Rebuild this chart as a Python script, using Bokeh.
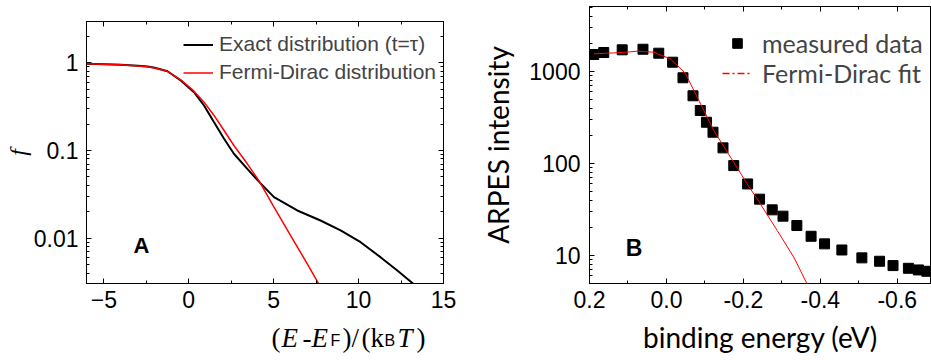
from bokeh.plotting import figure
from bokeh.models import (Range1d, FixedTicker, LinearAxis, LogAxis, Legend, LegendItem,
                          Label, ColumnDataSource)
from bokeh.layouts import row, column
from bokeh.embed import file_html
from bokeh.resources import INLINE

# ---------------- Panel A data ----------------
a_x_exact = [-6.0, -5.0, -4.0, -3.0, -2.43, -2.0, -1.25, -0.47, 0.31, 0.90, 1.49, 2.08,
             2.66, 3.45, 4.2, 5.02, 6.39, 7.76, 8.94, 10.12, 11.29, 12.28, 13.22]
a_f_exact = [0.975, 0.964, 0.949, 0.924, 0.908, 0.877, 0.802, 0.628, 0.462, 0.326, 0.210, 0.136,
             0.0917, 0.0618, 0.0427, 0.0294, 0.0207, 0.0159, 0.0123, 0.0090, 0.00607, 0.00428, 0.00302]
a_x_fd = [-6.0, -5.0, -4.0, -3.0, -2.43, -2.0, -1.25, -0.47, 0.31, 0.90, 1.49, 2.08,
          2.66, 3.45, 4.14, 5.02, 6.0, 6.98, 7.66]
a_f_fd = [0.975, 0.964, 0.949, 0.922, 0.903, 0.872, 0.800, 0.640, 0.475, 0.356, 0.251, 0.169,
          0.114, 0.0705, 0.0449, 0.0226, 0.0107, 0.0051, 0.0030]
a_xticks = [-5, 0, 5, 10, 15]
a_yticks = [0.01, 0.1, 1]
a_ytick_labels = ["0.01", "0.1", "1"]
a_legend = ["Exact distribution (t=\u03c4)", "Fermi-Dirac distribution"]

# ---------------- Panel B data ----------------
b_energy = [0.189, 0.163, 0.115, 0.061, 0.020, -0.016, -0.043, -0.069, -0.088, -0.104,
            -0.121, -0.147, -0.175, -0.211, -0.242, -0.275, -0.303, -0.339, -0.376, -0.411,
            -0.456, -0.508, -0.554, -0.589, -0.629, -0.655, -0.677]
b_intensity = [1531, 1610, 1722, 1746, 1581, 1262, 855, 545, 377, 281,
               219, 148, 95, 60, 41, 31.4, 26.8, 21.2, 16.2, 13.4,
               11.5, 9.44, 8.67, 7.78, 7.27, 6.98, 6.75]
b_fit_energy = [0.189, 0.115, 0.076, 0.033, -0.010, -0.049, -0.080, -0.123, -0.175,
                -0.210, -0.244, -0.288, -0.331, -0.365]
b_fit_intensity = [1556, 1610, 1663, 1622, 1374, 959, 526, 229, 103,
                   60, 36.5, 18.7, 9.6, 4.97]
b_xticks = [0.2, 0.0, -0.2, -0.4, -0.6]
b_xtick_labels = ["0.2", "0.0", "-0.2", "-0.4", "-0.6"]
b_yticks = [10, 100, 1000]
b_ytick_labels = ["10", "100", "1000"]
b_legend = ["measured data", "Fermi-Dirac fit"]

SANS = "Liberation Sans"
SERIF = "Liberation Serif"
LATO = "Lato"
NAN = float("nan")


def log_minor(lo_exp, hi_exp):
    return [m * 10.0 ** e for e in range(lo_exp, hi_exp + 1) for m in range(2, 10)]


def style_axis(ax, size, standoff):
    ax.axis_line_color = "black"
    ax.axis_line_width = 1
    ax.major_tick_line_color = "black"
    ax.minor_tick_line_color = "black"
    ax.major_tick_line_width = 1
    ax.minor_tick_line_width = 1
    ax.major_tick_in = 5
    ax.major_tick_out = 0
    ax.minor_tick_in = 3
    ax.minor_tick_out = 0
    ax.major_label_text_font = SANS
    ax.major_label_text_font_size = size
    ax.major_label_text_color = "black"
    ax.major_label_standoff = standoff
    ax.axis_label_text_font_style = "normal"
    ax.axis_label_text_color = "black"


def hidden_labels(ax):
    ax.major_label_text_color = None
    ax.major_label_text_font_size = "1px"
    ax.major_label_standoff = 0


# ================= Panel A =================
pa = figure(width=470, height=319, x_range=Range1d(-6.02, 15), y_range=Range1d(0.00304, 2.96),
            y_axis_type="log", output_backend="svg", toolbar_location=None,
            min_border_left=86, min_border_right=27, min_border_top=21, min_border_bottom=36)
pa.grid.visible = False
pa.outline_line_color = "black"

xt_a = FixedTicker(ticks=a_xticks, minor_ticks=[-2.5, 2.5, 7.5, 12.5])
yt_a = FixedTicker(ticks=a_yticks, minor_ticks=log_minor(-3, 0))
pa.xaxis.ticker = xt_a
pa.yaxis.ticker = yt_a
pa.yaxis.major_label_overrides = {t: s for t, s in zip(a_yticks, a_ytick_labels)}
style_axis(pa.xaxis[0], "23px", 7)
style_axis(pa.yaxis[0], "23px", 8)
pa.yaxis.axis_label = "f"
pa.yaxis.axis_label_text_font = SERIF
pa.yaxis.axis_label_text_font_size = "24px"
pa.yaxis.axis_label_text_font_style = "italic"
pa.yaxis.axis_label_standoff = 0

top_a = LinearAxis(ticker=xt_a)
style_axis(top_a, "1px", 0)
hidden_labels(top_a)
pa.add_layout(top_a, "above")
right_a = LogAxis(ticker=yt_a)
style_axis(right_a, "1px", 0)
hidden_labels(right_a)
pa.add_layout(right_a, "right")

r_ex = pa.line(a_x_exact, a_f_exact, line_color="black", line_width=2)
r_fd = pa.line(a_x_fd, a_f_fd, line_color="red", line_width=1.5)

leg_a = Legend(items=[LegendItem(label=a_legend[0], renderers=[r_ex]),
                      LegendItem(label=a_legend[1], renderers=[r_fd])],
               location=(97, 199), padding=0, margin=0, spacing=4,
               glyph_width=30, glyph_height=23, label_height=23, label_standoff=6,
               label_text_font=SANS, label_text_font_size="21px",
               border_line_color=None, background_fill_alpha=0)
pa.add_layout(leg_a)

pa.add_layout(Label(x=-3.25, y=0.0083, text="A", text_font=SANS, text_font_size="22px",
                    text_font_style="bold", text_color="black", text_baseline="alphabetic"))

# x-axis title of panel A, drawn in its own strip below the plot
cap = figure(width=470, height=41, x_range=Range1d(0, 1), y_range=Range1d(0, 1),
             output_backend="svg", toolbar_location=None, title_location=None, min_border=0,
             x_axis_location=None, y_axis_location=None)
cap.grid.visible = False
cap.outline_line_color = None
pieces = [("(", 185, SERIF, "27px", "normal", 0),
          ("E", 195, SERIF, "27px", "italic", 0),
          ("-", 216, SERIF, "27px", "normal", 0),
          ("E", 225, SERIF, "27px", "italic", 0),
          ("F", 244, SANS, "16px", "normal", -3),
          (")", 256, SERIF, "27px", "normal", 0),
          ("/", 265, SERIF, "27px", "normal", 0),
          ("(", 275, SERIF, "27px", "normal", 0),
          ("k", 284, SERIF, "27px", "normal", 0),
          ("B", 298, SANS, "16px", "normal", -3),
          ("T", 311, SERIF, "27px", "italic", 0),
          (")", 330, SERIF, "27px", "normal", 0)]
for txt, px, fnt, fs, sty, dy in pieces:
    cap.add_layout(Label(x=px, y=23 + dy, x_units="screen", y_units="screen", text=txt,
                         text_font=fnt, text_font_size=fs, text_font_style=sty,
                         text_color="black", text_baseline="alphabetic", text_align="left"))

# ================= Panel B =================
pb = figure(width=461, height=360, x_range=Range1d(0.2, -0.689), y_range=Range1d(4.97, 5088),
            y_axis_type="log", output_backend="svg", toolbar_location=None,
            min_border_left=119, min_border_right=0, min_border_top=6, min_border_bottom=77)
pb.grid.visible = False
pb.outline_line_color = "black"

xt_b = FixedTicker(ticks=b_xticks, minor_ticks=[0.1, -0.1, -0.3, -0.5])
yt_b = FixedTicker(ticks=b_yticks, minor_ticks=log_minor(0, 3))
pb.xaxis.ticker = xt_b
pb.yaxis.ticker = yt_b
pb.xaxis.major_label_overrides = {t: s for t, s in zip(b_xticks, b_xtick_labels)}
pb.yaxis.major_label_overrides = {t: s for t, s in zip(b_yticks, b_ytick_labels)}
style_axis(pb.xaxis[0], "23px", 7)
style_axis(pb.yaxis[0], "23px", 9)
pb.xaxis.axis_label = "binding energy (eV)"
pb.xaxis.axis_label_text_font = LATO
pb.xaxis.axis_label_text_font_size = "28px"
pb.xaxis.axis_label_standoff = 9
pb.yaxis.axis_label = "ARPES intensity"
pb.yaxis.axis_label_text_font = LATO
pb.yaxis.axis_label_text_font_size = "28px"
pb.yaxis.axis_label_standoff = 11

top_b = LinearAxis(ticker=xt_b)
style_axis(top_b, "1px", 0)
hidden_labels(top_b)
pb.add_layout(top_b, "above")

src_b = ColumnDataSource(dict(e=b_energy, i=b_intensity))
pb.scatter("e", "i", source=src_b, marker="square", size=10, fill_color="black", line_color="black")
pb.line(b_fit_energy, b_fit_intensity, line_color="red", line_width=1)

dummy_sq = pb.scatter([NAN], [NAN], marker="square", size=7, fill_color="black", line_color="black")
dummy_ln = pb.line([NAN, NAN], [NAN, NAN], line_color="red", line_width=1.3, line_dash="7 3 2 3")
leg_b = Legend(items=[LegendItem(label=b_legend[0], renderers=[dummy_sq]),
                      LegendItem(label=b_legend[1], renderers=[dummy_ln])],
               location=(133, 195), padding=0, margin=0, spacing=-2,
               glyph_width=30, glyph_height=24, label_height=24, label_standoff=10,
               label_text_font=LATO, label_text_font_size="25px",
               border_line_color=None, background_fill_alpha=0)
pb.add_layout(leg_b)

pb.add_layout(Label(x=0.106, y=12.2, text="B", text_font=SANS, text_font_size="23px",
                    text_font_style="bold", text_color="black", text_baseline="alphabetic"))

layout = row(column(pa, cap), pb)
open("out.html", "w").write(file_html(layout, INLINE))
